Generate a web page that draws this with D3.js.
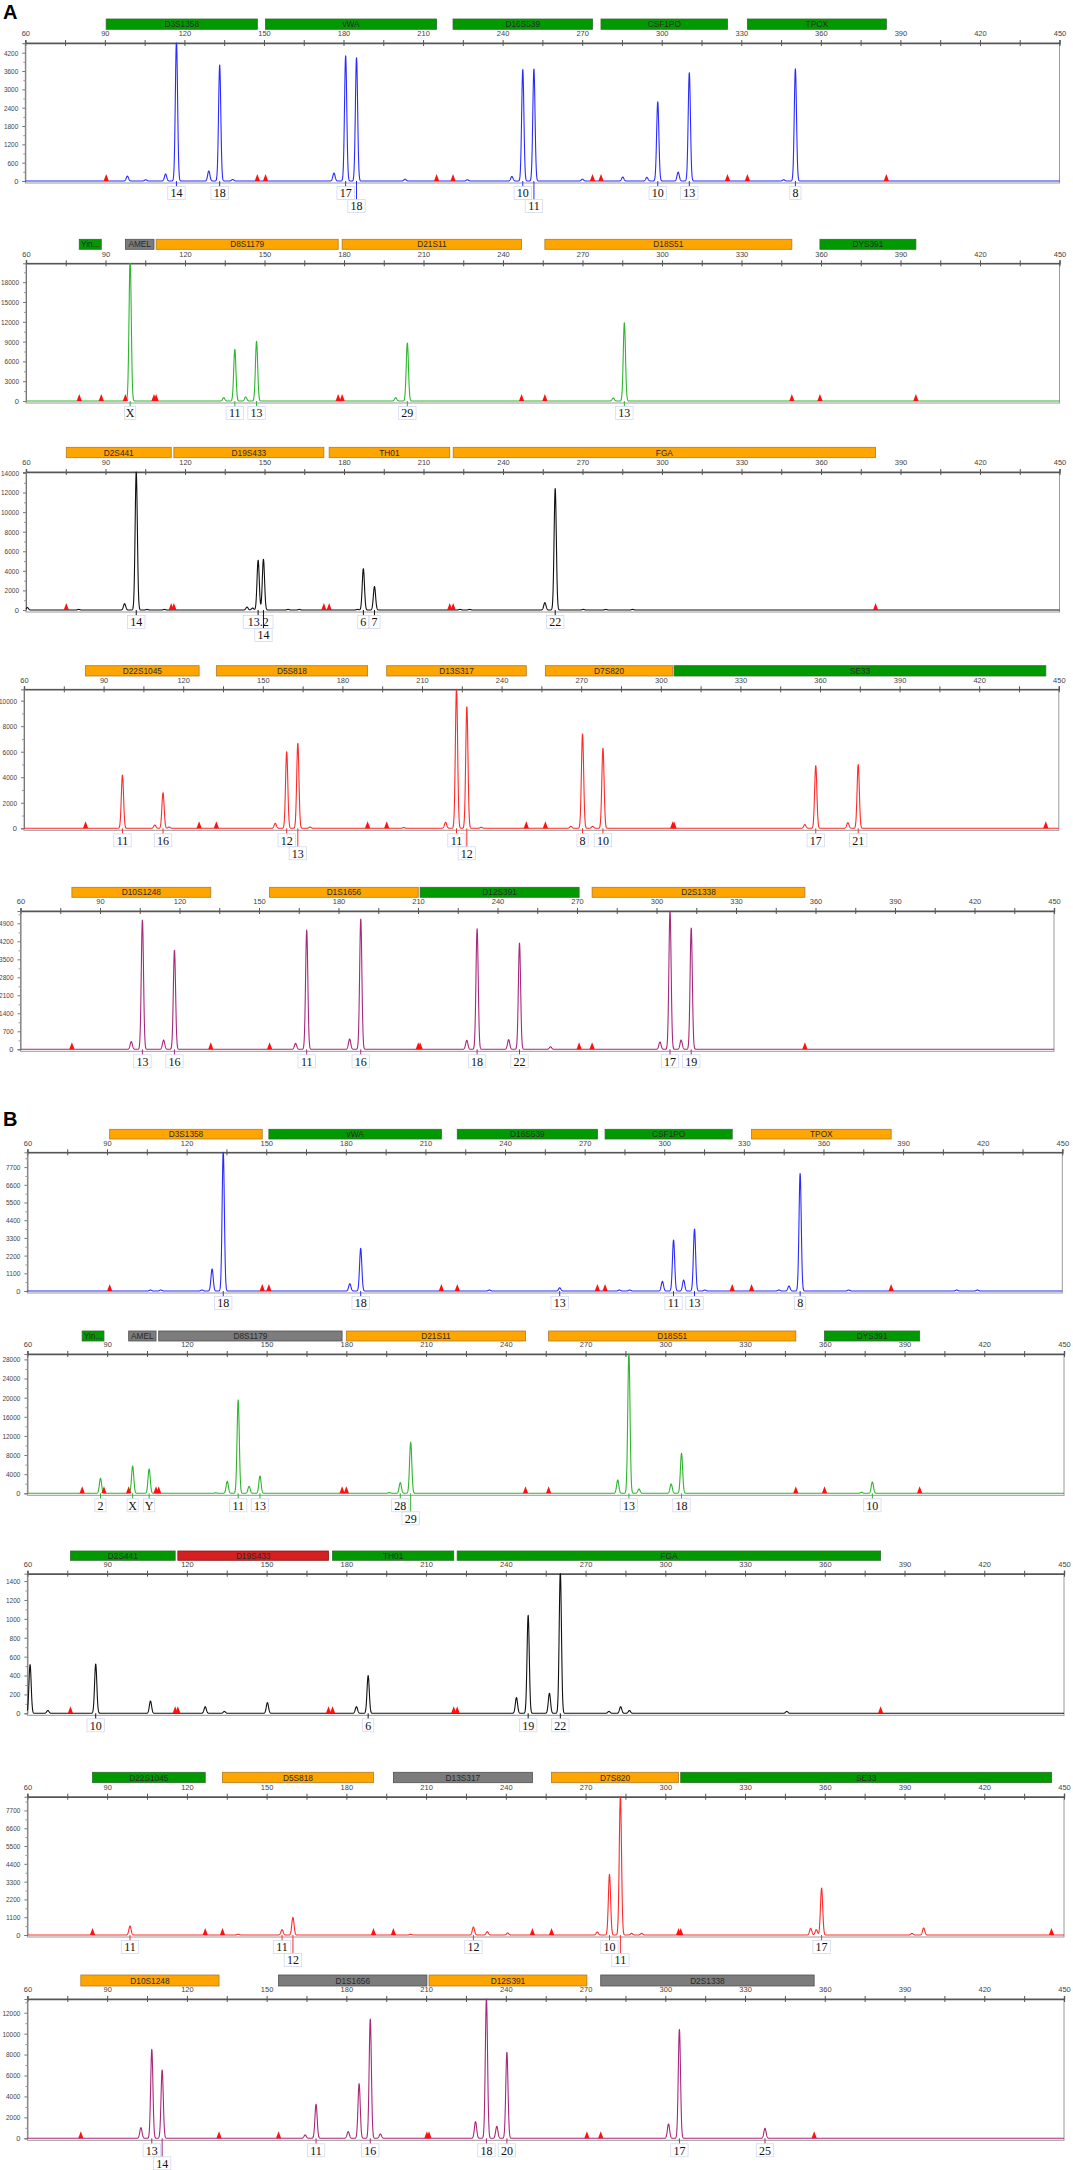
<!DOCTYPE html>
<html><head><meta charset="utf-8">
<script src="https://cdn.jsdelivr.net/npm/d3@7/dist/d3.min.js"></script>
<style>body{margin:0;background:#fff}svg{display:block}</style>
</head><body>
<svg id="chart" width="1073" height="2170"></svg>
<script>
// ---------- shared tick labels ----------
const xTicks = [60,90,120,150,180,210,240,270,300,330,360,390,420,450];

// ---------- Panel A1 (blue) ----------
const A1_loci = ["D3S1358","vWA","D16S539","CSF1PO","TPOX"];
const A1_locusStart = [90.5,150.6,221.3,277.1,332.3];
const A1_locusEnd = [147.5,215.1,273.9,324.8,384.7];
const A1_locusDye = ["green","green","green","green","green"];
const A1_alleles = ["14","18","17","18","10","11","10","13","8"];
const A1_alleleSize = [117.0,133.3,180.8,184.9,247.6,251.8,298.5,310.4,350.4];
const A1_alleleHeight = [4600,3800,4100,4040,3650,3670,2590,3545,3670];
const A1_labelRow = [1,1,1,2,1,2,1,1,1];
const A1_minorSize = [98.5,105.4,112.9,129.2,138.2,176.4,203.2,226.7,243.5,270.1,285.3,294.4,306.2,346];
const A1_minorHeight = [160,40,230,330,50,260,60,40,150,60,130,120,290,40];
const A1_yTicks = [0,600,1200,1800,2400,3000,3600,4200];
const A1_yMax = 4517;

// ---------- Panel A2 (green) ----------
const A2_loci = ["Yin...","AMEL","D8S1179","D21S11","D18S51","DYS391"];
const A2_locusStart = [80.1,97.5,109.1,179.3,255.8,359.6];
const A2_locusEnd = [88.4,108.3,177.8,247.0,349.0,395.8];
const A2_locusDye = ["green","grey","orange","orange","orange","green"];
const A2_alleles = ["X","11","13","29","13"];
const A2_alleleSize = [99.3,138.8,147.0,203.9,285.8];
const A2_alleleHeight = [21500,7830,9040,8790,11870];
const A2_labelRow = [1,1,1,1,1];
const A2_minorSize = [134.6,142.9,199.5,281.6];
const A2_minorHeight = [500,600,500,450];
const A2_yTicks = [0,3000,6000,9000,12000,15000,18000];
const A2_yMax = 20864;

// ---------- Panel A3 (black) ----------
const A3_loci = ["D2S441","D19S433","TH01","FGA"];
const A3_locusStart = [75.2,115.8,174.4,221.2];
const A3_locusEnd = [114.8,172.4,219.9,380.6];
const A3_locusDye = ["orange","orange","orange","orange"];
const A3_alleles = ["14","13.2","14","6","7","22"];
const A3_alleleSize = [101.6,147.6,149.6,187.3,191.5,259.7];
const A3_alleleHeight = [14100,5080,5180,4220,2400,12420];
const A3_labelRow = [1,1,2,1,1,1];
const A3_minorSize = [60.5,97.2,143.4,145.5,255.8,79.9,105.7,112.2,158.9,163.1,185.1,223.8,227.4,270.3,278.8,288.9];
const A3_minorHeight = [250,650,300,200,750,60,60,60,60,60,60,60,60,60,60,60];
const A3_yTicks = [0,2000,4000,6000,8000,10000,12000,14000];
const A3_yMax = 14100;

// ---------- Panel A4 (red) ----------
const A4_loci = ["D22S1045","D5S818","D13S317","D7S820","SE33"];
const A4_locusStart = [83.2,132.5,196.7,256.5,305.0];
const A4_locusEnd = [126.0,189.5,249.3,304.5,445.1];
const A4_locusDye = ["orange","orange","orange","orange","green"];
const A4_alleles = ["11","16","12","13","11","12","8","10","17","21"];
const A4_alleleSize = [97.1,112.4,159.0,163.2,223.0,226.9,270.5,278.2,358.4,374.4];
const A4_alleleHeight = [4180,2790,6000,6660,11000,9530,7390,6270,4910,4990];
const A4_labelRow = [1,1,1,2,1,2,1,1,1,1];
const A4_minorSize = [109.3,154.7,218.9,266.1,274.3,354.3,370.5,114.7,167.8,203.1,232.3];
const A4_minorHeight = [260,390,470,150,150,290,440,100,100,60,80];
const A4_yTicks = [0,2000,4000,6000,8000,10000];
const A4_yMax = 10890;

// ---------- Panel A5 (purple) ----------
const A5_loci = ["D10S1248","D1S1656","D12S391","D2S1338"];
const A5_locusStart = [79.4,154.0,210.8,275.7];
const A5_locusEnd = [131.8,210.1,270.8,356.0];
const A5_locusDye = ["orange","orange","green","orange"];
const A5_alleles = ["13","16","11","16","18","22","17","19"];
const A5_alleleSize = [106.0,118.1,168.0,188.4,232.3,248.3,305.1,313.1];
const A5_alleleHeight = [5030,3860,4640,5070,4690,4135,5400,4720];
const A5_labelRow = [1,1,1,1,1,1,1,1];
const A5_minorSize = [101.8,114.0,163.8,184.2,228.4,244.2,260.0,301.3,309.3];
const A5_minorHeight = [300,360,230,400,350,375,100,285,360];
const A5_yTicks = [0,700,1400,2100,2800,3500,4200,4900];
const A5_yMax = 5380;

// ---------- Panel B1 (blue) ----------
const B1_loci = ["D3S1358","vWA","D16S539","CSF1PO","TPOX"];
const B1_locusStart = [91.0,151.0,222.0,277.7,332.9];
const B1_locusEnd = [148.5,216.0,274.8,325.6,385.5];
const B1_locusDye = ["orange","green","green","green","orange"];
const B1_alleles = ["18","18","13","11","13","8"];
const B1_alleleSize = [133.8,185.6,260.6,303.5,311.4,351.2];
const B1_alleleHeight = [8700,2650,200,3170,3850,7310];
const B1_labelRow = [1,1,1,1,1,1];
const B1_minorSize = [129.6,181.5,299.3,307.3,347.0,106.4,110.3,125.8,234.1,283.1,287.0,315.3,343.2,369.5,410.2,418.0];
const B1_minorHeight = [1370,455,600,680,310,60,60,60,60,60,60,60,60,60,60,60];
const B1_yTicks = [0,1100,2200,3300,4400,5500,6600,7700];
const B1_yMax = 8620;

// ---------- Panel B2 (green) ----------
const B2_loci = ["Yin...","AMEL","D8S1179","D21S11","D18S51","DYS391"];
const B2_locusStart = [80.6,98.1,109.4,180.0,256.1,359.9];
const B2_locusEnd = [88.8,108.4,178.4,247.4,349.1,395.7];
const B2_locusDye = ["green","grey","grey","orange","orange","green"];
const B2_alleles = ["2","X","Y","11","13","28","29","13","18","10"];
const B2_alleleSize = [87.5,99.6,105.8,139.3,147.5,200.3,204.2,286.3,306.1,377.9];
const B2_alleleHeight = [3140,5710,5090,19510,3620,2230,10660,29500,8360,2370];
const B2_labelRow = [1,1,1,1,1,1,2,1,1,1];
const B2_minorSize = [135.2,143.4,282.1,290.1,302.2,373.8,130.8,196.2];
const B2_minorHeight = [2510,1460,2790,900,1950,200,100,150];
const B2_yTicks = [0,4000,8000,12000,16000,20000,24000,28000];
const B2_yMax = 29130;

// ---------- Panel B3 (black) ----------
const B3_loci = ["D2S441","D19S433","TH01","FGA"];
const B3_locusStart = [76.2,116.6,174.8,221.7];
const B3_locusEnd = [115.6,173.3,220.4,381.0];
const B3_locusDye = ["green","red","green","green"];
const B3_alleles = ["10","6","19","22"];
const B3_alleleSize = [85.7,188.2,248.4,260.5];
const B3_alleleHeight = [522,399,1037,1500];
const B3_labelRow = [1,1,1,1];
const B3_minorSize = [61.0,106.3,126.9,134.1,150.3,183.8,244.0,256.4,283.2,278.8,286.5,345.7,67.7];
const B3_minorHeight = [515,130,70,20,113,70,166,212,70,20,30,20,30];
const B3_yTicks = [0,200,400,600,800,1000,1200,1400];
const B3_yMax = 1478;

// ---------- Panel B4 (red) ----------
const B4_loci = ["D22S1045","D5S818","D13S317","D7S820","SE33"];
const B4_locusStart = [84.5,133.4,197.7,257.2,305.8];
const B4_locusEnd = [126.9,190.2,250.0,305.0,445.3];
const B4_locusDye = ["green","orange","grey","orange","green"];
const B4_alleles = ["11","11","12","12","10","11","17"];
const B4_alleleSize = [98.6,155.8,159.9,227.8,279.0,283.1,358.8];
const B4_alleleHeight = [556,330,1090,494,3750,8600,2900];
const B4_labelRow = [1,1,2,1,1,2,1];
const B4_minorSize = [233.0,240.7,274.4,287.3,291.1,354.7,356.8,392.8,397.2,139.3,204.2];
const B4_minorHeight = [206,124,185,100,100,412,330,100,433,50,40];
const B4_yTicks = [0,1100,2200,3300,4400,5500,6600,7700];
const B4_yMax = 8550;

// ---------- Panel B5 (purple) ----------
const B5_loci = ["D10S1248","D1S1656","D12S391","D2S1338"];
const B5_locusStart = [80.1,154.5,211.1,275.7];
const B5_locusEnd = [132.1,210.3,270.5,356.0];
const B5_locusDye = ["orange","grey","orange","grey"];
const B5_alleles = ["13","14","11","16","18","20","17","25"];
const B5_alleleSize = [106.8,110.7,168.6,189.0,232.7,240.4,305.3,337.5];
const B5_alleleHeight = [8500,6530,3250,11400,13400,8220,10410,960];
const B5_labelRow = [1,2,1,1,1,1,1,1];
const B5_minorSize = [102.7,164.5,180.7,184.8,192.8,228.6,236.6,301.2];
const B5_minorHeight = [1020,320,640,5220,410,1590,1150,1370];
const B5_yTicks = [0,2000,4000,6000,8000,10000,12000];
const B5_yMax = 13310;

// ---------- styles & layout ----------
const dyeFill = {green:"#009a00", orange:"#ffa500", grey:"#7c7c7c", red:"#d42020"};
const dyeStroke = {green:"#2f6b2f", orange:"#b07a2a", grey:"#505050", red:"#8a1a1a"};
const traceColor = {blue:"#2b2bff", green:"#2fb52f", black:"#111111", red:"#ff2a2a", purple:"#a8287c"};

const panels = [
  {loci:A1_loci,ls:A1_locusStart,le:A1_locusEnd,ld:A1_locusDye,al:A1_alleles,as:A1_alleleSize,ah:A1_alleleHeight,lr:A1_labelRow,ms:A1_minorSize,mh:A1_minorHeight,yt:A1_yTicks,ym:A1_yMax,color:"blue",
   lay:{barTop:19,barBot:29.3,axis:43,base:181,L:25.3,R:1059.5}},
  {loci:A2_loci,ls:A2_locusStart,le:A2_locusEnd,ld:A2_locusDye,al:A2_alleles,as:A2_alleleSize,ah:A2_alleleHeight,lr:A2_labelRow,ms:A2_minorSize,mh:A2_minorHeight,yt:A2_yTicks,ym:A2_yMax,color:"green",
   lay:{barTop:239.3,barBot:249.3,axis:263.3,base:401,L:26,R:1059.5}},
  {loci:A3_loci,ls:A3_locusStart,le:A3_locusEnd,ld:A3_locusDye,al:A3_alleles,as:A3_alleleSize,ah:A3_alleleHeight,lr:A3_labelRow,ms:A3_minorSize,mh:A3_minorHeight,yt:A3_yTicks,ym:A3_yMax,color:"black",
   lay:{barTop:447.3,barBot:457.7,axis:472,base:610,L:26,R:1059.5}},
  {loci:A4_loci,ls:A4_locusStart,le:A4_locusEnd,ld:A4_locusDye,al:A4_alleles,as:A4_alleleSize,ah:A4_alleleHeight,lr:A4_labelRow,ms:A4_minorSize,mh:A4_minorHeight,yt:A4_yTicks,ym:A4_yMax,color:"red",
   lay:{barTop:665.7,barBot:676,axis:689.3,base:828.3,L:24,R:1058.8}},
  {loci:A5_loci,ls:A5_locusStart,le:A5_locusEnd,ld:A5_locusDye,al:A5_alleles,as:A5_alleleSize,ah:A5_alleleHeight,lr:A5_labelRow,ms:A5_minorSize,mh:A5_minorHeight,yt:A5_yTicks,ym:A5_yMax,color:"purple",
   lay:{barTop:887.3,barBot:897.3,axis:911,base:1049.3,L:20.5,R:1054}},
  {loci:B1_loci,ls:B1_locusStart,le:B1_locusEnd,ld:B1_locusDye,al:B1_alleles,as:B1_alleleSize,ah:B1_alleleHeight,lr:B1_labelRow,ms:B1_minorSize,mh:B1_minorHeight,yt:B1_yTicks,ym:B1_yMax,color:"blue",
   lay:{barTop:1129.3,barBot:1139,axis:1152.3,base:1291,L:27.4,R:1062.3}},
  {loci:B2_loci,ls:B2_locusStart,le:B2_locusEnd,ld:B2_locusDye,al:B2_alleles,as:B2_alleleSize,ah:B2_alleleHeight,lr:B2_labelRow,ms:B2_minorSize,mh:B2_minorHeight,yt:B2_yTicks,ym:B2_yMax,color:"green",
   lay:{barTop:1331,barBot:1341,axis:1354,base:1493.3,L:27.4,R:1064}},
  {loci:B3_loci,ls:B3_locusStart,le:B3_locusEnd,ld:B3_locusDye,al:B3_alleles,as:B3_alleleSize,ah:B3_alleleHeight,lr:B3_labelRow,ms:B3_minorSize,mh:B3_minorHeight,yt:B3_yTicks,ym:B3_yMax,color:"black",
   lay:{barTop:1551,barBot:1560.3,axis:1573.7,base:1713.3,L:27.4,R:1064}},
  {loci:B4_loci,ls:B4_locusStart,le:B4_locusEnd,ld:B4_locusDye,al:B4_alleles,as:B4_alleleSize,ah:B4_alleleHeight,lr:B4_labelRow,ms:B4_minorSize,mh:B4_minorHeight,yt:B4_yTicks,ym:B4_yMax,color:"red",
   lay:{barTop:1772.3,barBot:1782.7,axis:1796.7,base:1935,L:27.4,R:1064}},
  {loci:B5_loci,ls:B5_locusStart,le:B5_locusEnd,ld:B5_locusDye,al:B5_alleles,as:B5_alleleSize,ah:B5_alleleHeight,lr:B5_labelRow,ms:B5_minorSize,mh:B5_minorHeight,yt:B5_yTicks,ym:B5_yMax,color:"purple",
   lay:{barTop:1975,barBot:1986,axis:1999,base:2138.3,L:27.4,R:1064}}
];

const svg = d3.select("#chart");
const SIGMA = 0.42;
const minorXTicks = d3.range(60, 451, 15);
const FONT = "Liberation Sans, Arial, sans-serif";

svg.append("text").attr("x",3).attr("y",19).attr("font-family",FONT)
  .attr("font-weight","bold").attr("font-size",20).attr("fill","#000").text("A");
svg.append("text").attr("x",3).attr("y",1126).attr("font-family",FONT)
  .attr("font-weight","bold").attr("font-size",20).attr("fill","#000").text("B");

panels.forEach((p) => {
  const lay = p.lay;
  const g = svg.append("g");
  const x = d3.scaleLinear().domain([60,450]).range([lay.L, lay.R]);
  const y = d3.scaleLinear().domain([0,p.ym]).range([lay.base, lay.axis]).clamp(true);
  const col = traceColor[p.color];

  // frame
  g.append("rect").attr("x",lay.L).attr("y",lay.axis).attr("width",lay.R-lay.L)
    .attr("height",lay.base+2-lay.axis).attr("fill","none").attr("stroke","#9a9a9a").attr("stroke-width",1);

  // locus bars
  const loci = p.loci.map((n,i)=>({name:n,s:p.ls[i],e:p.le[i],d:p.ld[i]}));
  const bg = g.append("g");
  bg.selectAll("rect").data(loci).join("rect")
    .attr("x",d=>x(d.s)).attr("y",lay.barTop).attr("width",d=>x(d.e)-x(d.s)).attr("height",lay.barBot-lay.barTop)
    .attr("fill",d=>dyeFill[d.d]).attr("stroke",d=>dyeStroke[d.d]).attr("stroke-width",0.8);
  bg.selectAll("text").data(loci).join("text")
    .attr("x",d=>(x(d.s)+x(d.e))/2).attr("y",(lay.barTop+lay.barBot)/2+3.1)
    .attr("text-anchor","middle").attr("font-family",FONT).attr("font-size",8.3)
    .attr("fill","#2a2a2a").text(d=>d.name);

  // top axis
  const ax = g.append("g").attr("transform",`translate(0,${lay.axis})`)
    .call(d3.axisTop(x).tickValues(minorXTicks).tickSize(3).tickFormat(v=>xTicks.includes(v)?v:""));
  ax.select(".domain").attr("stroke","#555").attr("stroke-width",1.4);
  ax.selectAll(".tick line").attr("stroke","#555");
  ax.selectAll("text").attr("font-family",FONT).attr("font-size",7.5).attr("fill","#444").attr("dy","-0.1em");
  const ax2 = g.append("g").attr("transform",`translate(0,${lay.axis})`)
    .call(d3.axisBottom(x).tickValues(minorXTicks).tickSize(3).tickFormat(""));
  ax2.select(".domain").remove();
  ax2.selectAll(".tick line").attr("stroke","#555");

  // left axis (narrow labels like the instrument software)
  const step = p.yt[1]-p.yt[0];
  const ay = g.append("g").attr("transform",`translate(${lay.L},0)`)
    .call(d3.axisLeft(y).tickValues(p.yt).tickSize(3).tickFormat(d3.format("d")));
  ay.select(".domain").attr("stroke","#777");
  ay.selectAll(".tick line").attr("stroke","#777");
  ay.selectAll("text").attr("font-family",FONT).attr("font-size",7.5).attr("fill","#444").attr("dx","-1")
    .each(function(){
      const t = d3.select(this).text();
      if (t.length > 1) d3.select(this).attr("textLength", t.length*3.6).attr("lengthAdjust","spacingAndGlyphs");
    });
  const halfTicks = p.yt.map(v=>v+step/2).filter(v=>v<p.ym);
  const ay2 = g.append("g").attr("transform",`translate(${lay.L},0)`)
    .call(d3.axisLeft(y).tickValues(halfTicks).tickSize(2).tickFormat(""));
  ay2.select(".domain").remove();
  ay2.selectAll(".tick line").attr("stroke","#999");

  // trace
  const peaks = p.as.map((s,i)=>({s:s,h:p.ah[i]})).concat(p.ms.map((s,i)=>({s:s,h:p.mh[i]})));
  const grid = d3.range(60, 450.001, 0.06);
  const pts = grid.map(s=>{
    let v = 0;
    for (const pk of peaks){ const dd=(s-pk.s)/SIGMA; if (Math.abs(dd)<6) v += pk.h*Math.exp(-0.5*dd*dd); }
    return [s,v];
  });
  g.append("path").datum(pts).attr("fill","none").attr("stroke",col).attr("stroke-width",1.1)
    .attr("stroke-linejoin","round")
    .attr("d", d3.line().x(d=>x(d[0])).y(d=>y(d[1])));

  // red triangles at locus bin edges
  const edges = [];
  loci.forEach(d=>{edges.push(d.s); edges.push(d.e);});
  g.selectAll("path.tri").data(edges).join("path").attr("class","tri")
    .attr("d",d=>{const cx=x(d); return `M${cx-2.6},${lay.base}L${cx},${lay.base-7}L${cx+2.6},${lay.base}Z`;})
    .attr("fill","#ff1010");

  // allele labels
  const labs = p.al.map((a,i)=>({a:a,s:p.as[i],r:p.lr[i]}));
  const lg = g.append("g");
  labs.forEach(d=>{
    const cx = x(d.s);
    const cy = lay.base + (d.r===1 ? 12 : 25);
    const w = d.a.length*6.2+5, h = 13;
    lg.append("line").attr("x1",cx).attr("x2",cx).attr("y1",lay.base).attr("y2",cy-h/2)
      .attr("stroke",col).attr("stroke-width",1);
    lg.append("rect").attr("x",cx-w/2).attr("y",cy-h/2).attr("width",w).attr("height",h)
      .attr("fill","none").attr("stroke","#d3daf0").attr("stroke-width",0.8);
    lg.append("text").attr("x",cx).attr("y",cy+4.2).attr("text-anchor","middle")
      .attr("font-family","Liberation Serif, Times New Roman, serif").attr("font-size",12)
      .attr("fill","#111").text(d.a);
  });
});
</script>
</body></html>
